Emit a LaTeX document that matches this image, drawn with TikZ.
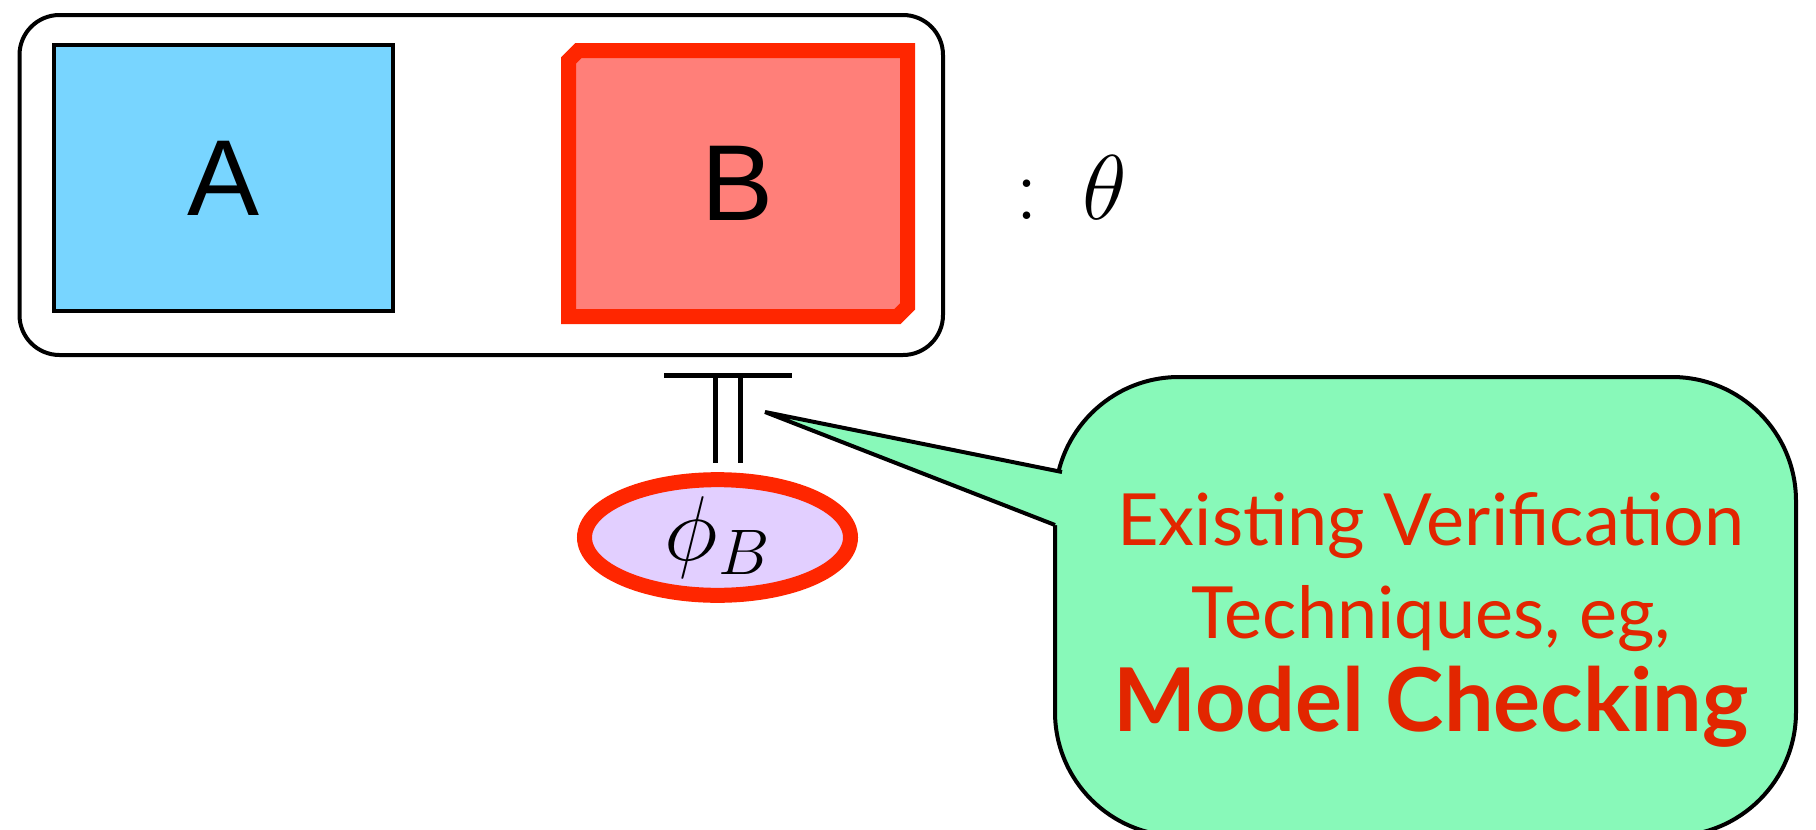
\documentclass[tikz,border=0pt]{standalone}
\usepackage{fix-cm}
\usepackage{fontspec}
\usepackage{tikz}
\usepackage{xcolor}
\usetikzlibrary{shapes.geometric,shapes.misc}
\newfontfamily\boxfont{Liberation Sans}
\newfontfamily\notefont{Lato}
\definecolor{compblue}{RGB}{120,213,255}
\definecolor{comppink}{RGB}{255,127,121}
\definecolor{alertred}{RGB}{255,38,0}
\definecolor{proplilac}{RGB}{226,207,255}
\definecolor{notegreen}{RGB}{136,249,185}
\definecolor{notered}{RGB}{226,38,0}

\begin{document}
\begin{tikzpicture}[x=0.5pt,y=-0.5pt,
  comp/.style={draw,rectangle,minimum width=169.5pt,minimum height=133pt,inner sep=0pt,font=\boxfont\fontsize{54}{60}\selectfont}]
  \useasboundingbox (0,0) rectangle (1816,830);
  % system frame: A in parallel with B
  \node[draw,line width=2pt,rounded corners=20pt,minimum width=461.75pt,minimum height=170pt] (sys) at (481.25,185) {};
  \node[comp,fill=compblue,line width=2pt] (A) at (223.5,178) {A};
  \node[comp,chamfered rectangle,chamfered rectangle corners={north west,south east},chamfered rectangle sep=2.5pt,fill=comppink,draw=alertred,line width=7.5pt] (B) at (738,183.5) {B};
  \node[anchor=base west,inner sep=0pt,font=\fontsize{46}{50}\selectfont] (theta) at (1015,219) {$:$\hspace{22pt}$\theta$};
  % models sign, turned on its side
  \draw[line width=2.5pt] (664,375) -- (792,375) (715,375) -- (715,463) (740,375) -- (740,463);
  \node[ellipse,draw=alertred,fill=proplilac,line width=7.5pt,minimum width=133pt,minimum height=52.75pt,inner sep=0pt,font=\fontsize{46}{50}\selectfont] (phiB) at (717.5,537.5) {$\phi_B$};
  % speech bubble with its tail
  \node[draw,fill=notegreen,line width=2pt,rounded corners=62pt,minimum width=370.5pt,minimum height=229.5pt] (note) at (1425.5,606.5) {};
  \coordinate (tip) at (765,412);
  \coordinate (tu) at (1062,472);
  \coordinate (tl) at (1055,525);
  \fill[notegreen] (tip) -- (tu) -- ++(30,0) -- ([xshift=15pt]tl) -- (tl) -- cycle;
  \draw[line width=2pt] (tu) -- (tip) -- (tl);
  \node[align=center,text=notered,font=\notefont\fontsize{36}{46.5}\selectfont] (notetext) at (1431,620)
    {Existing Verification\\Techniques, eg,\\{\bfseries\fontsize{44}{46.5}\selectfont Model Checking}};
\end{tikzpicture}
\end{document}
